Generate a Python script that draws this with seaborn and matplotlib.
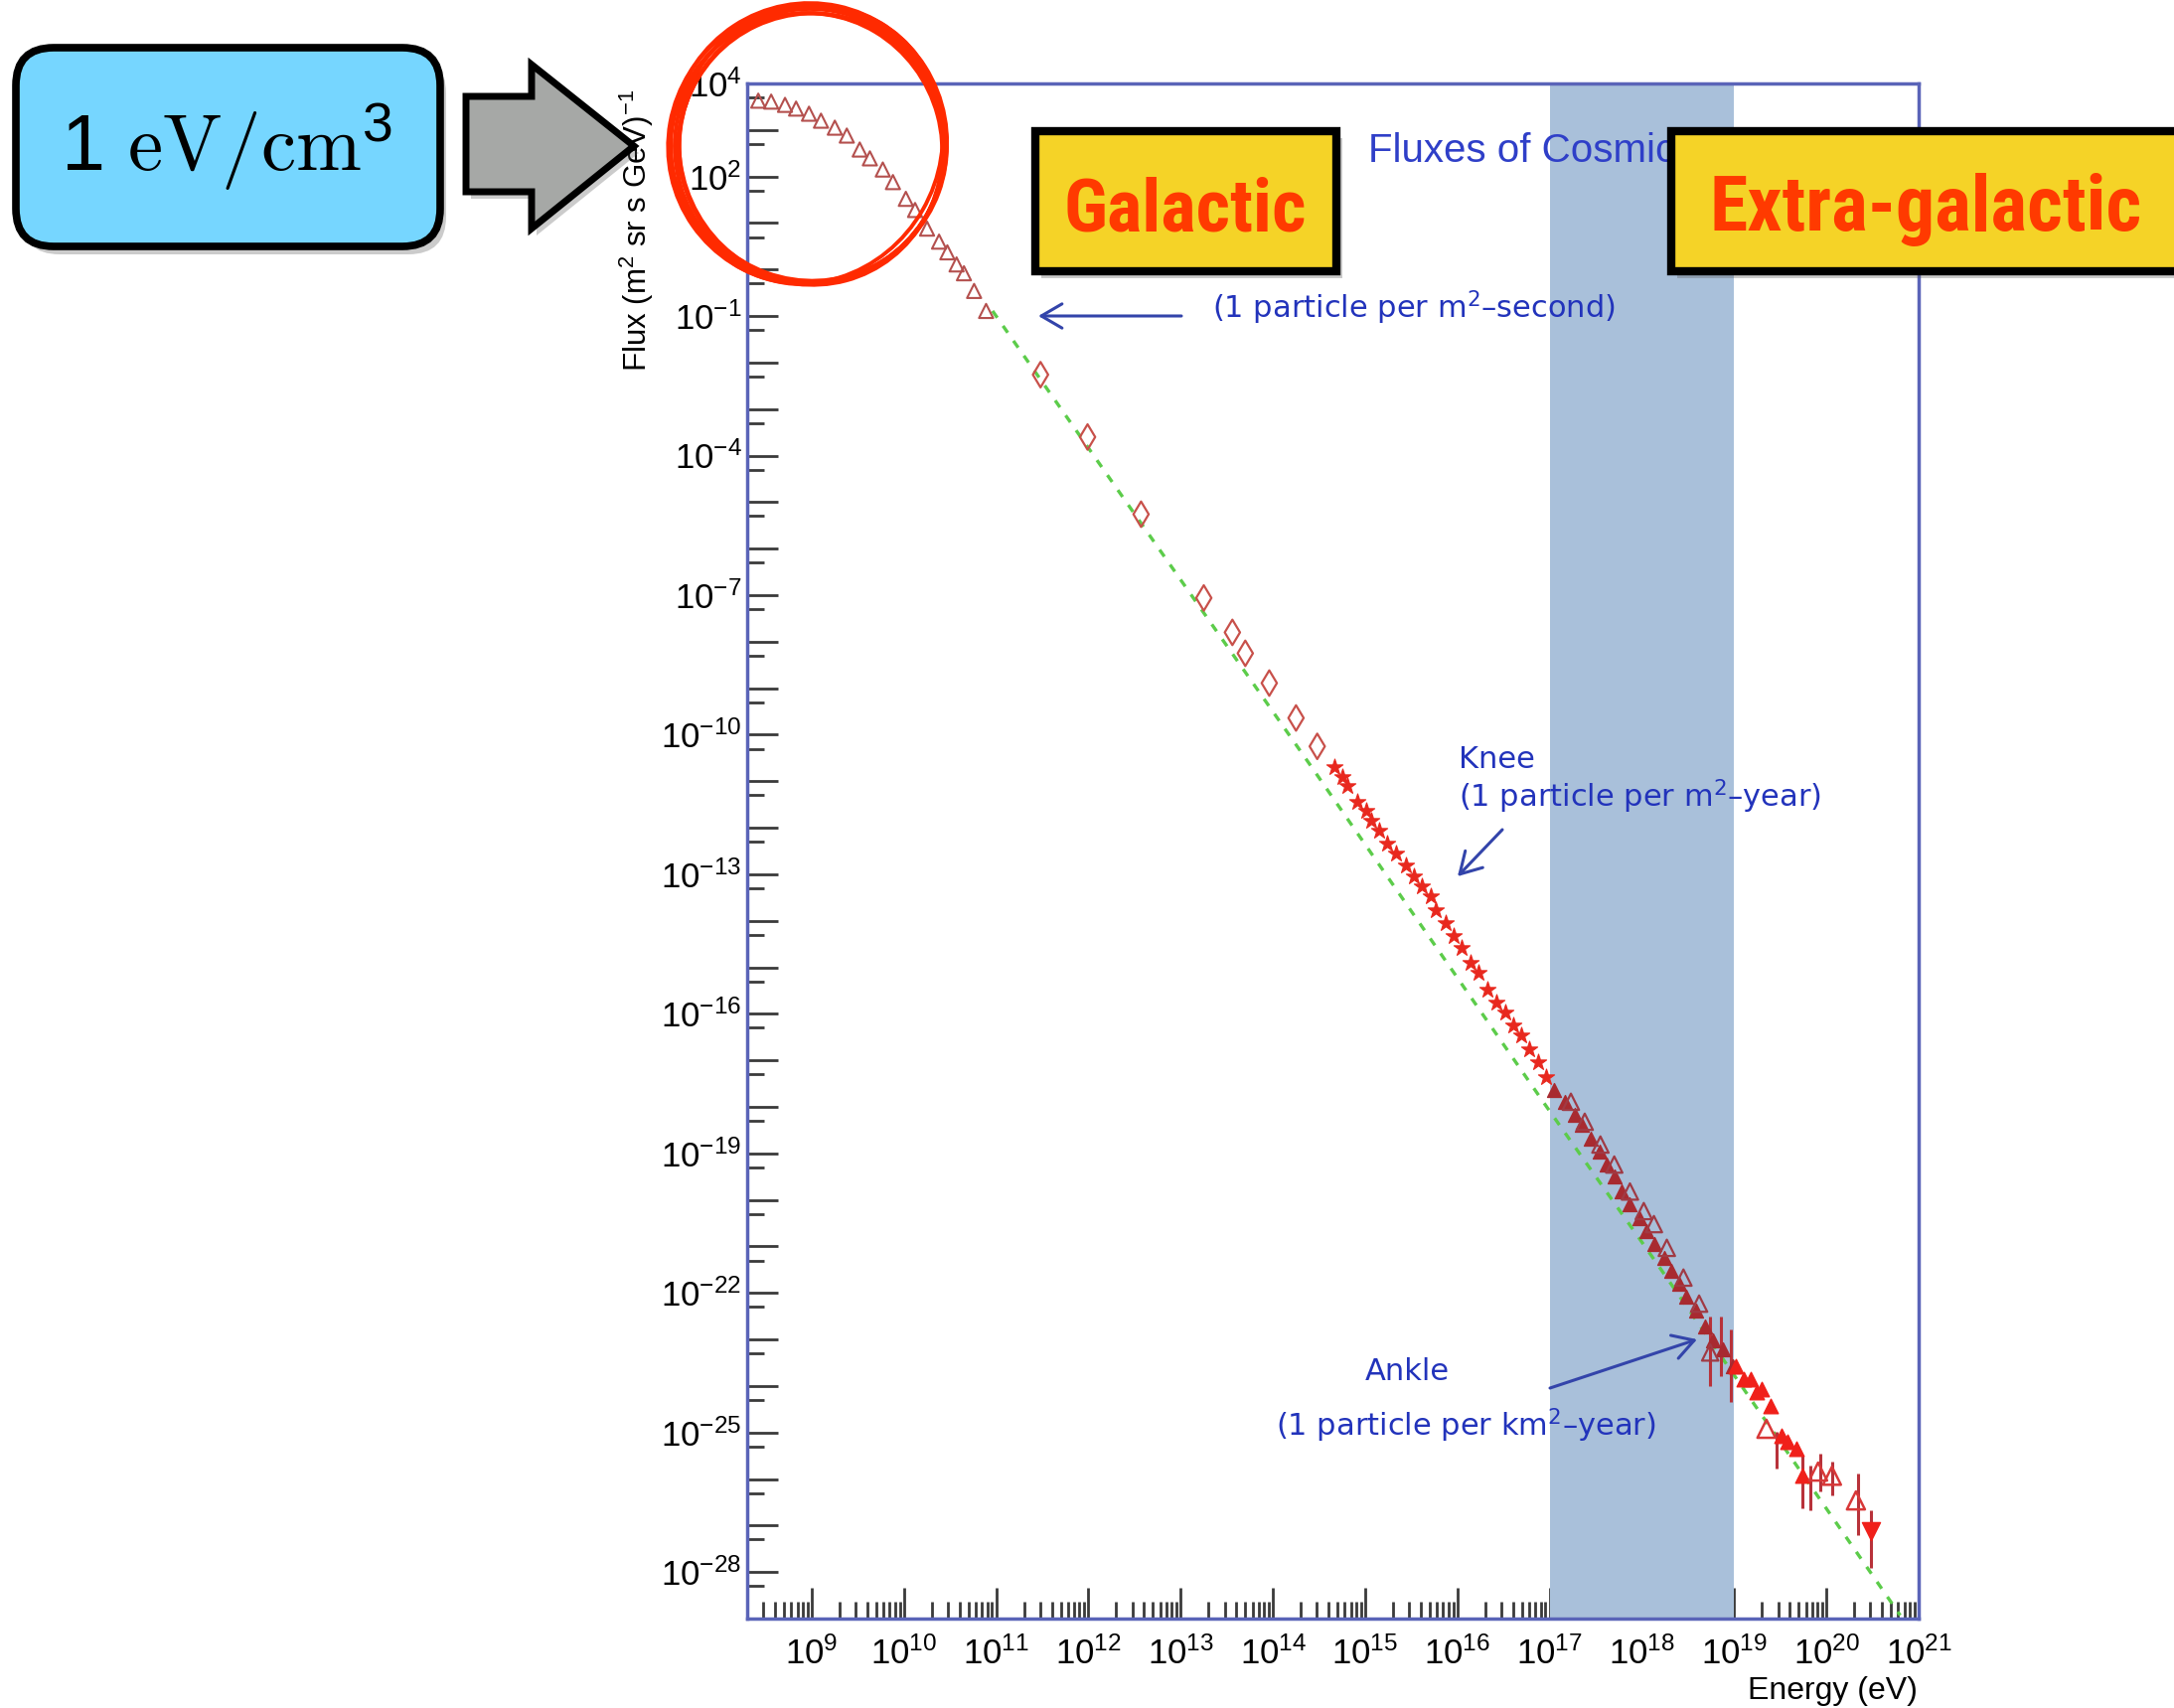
import numpy as np
import pandas as pd
import matplotlib
matplotlib.use("Agg")
import matplotlib.pyplot as plt
import seaborn as sns
from matplotlib import font_manager as fm
from matplotlib.patches import FancyBboxPatch, Polygon, Ellipse, Rectangle, FancyArrowPatch
from matplotlib.transforms import IdentityTransform
from matplotlib.ticker import FixedLocator, FuncFormatter, NullFormatter

# ---------------- data (log10 values) ----------------
low_tri_logE = [8.42, 8.56, 8.71, 8.83, 8.97, 9.10, 9.25, 9.38, 9.52, 9.63, 9.77,
                9.88, 10.02, 10.12, 10.25, 10.38, 10.47, 10.57, 10.65, 10.76, 10.89]
low_tri_logF = [3.63, 3.61, 3.54, 3.46, 3.35, 3.20, 3.05, 2.88, 2.58, 2.39, 2.15,
                1.88, 1.52, 1.28, 0.88, 0.60, 0.37, 0.11, -0.08, -0.46, -0.89]

diam_logE = [11.48, 11.99, 12.57, 13.25, 13.56, 13.70, 13.96, 14.25, 14.48]
diam_logF = [-2.26, -3.60, -5.26, -7.06, -7.80, -8.25, -8.89, -9.64, -10.25]

star_logE = [14.67, 14.75, 14.81, 14.91, 15.01, 15.06, 15.15, 15.24, 15.33, 15.44,
             15.53, 15.61, 15.71, 15.77, 15.87, 15.96, 16.04, 16.14, 16.23, 16.32,
             16.42, 16.52, 16.60, 16.69, 16.78, 16.87, 16.96]
star_logF = [-10.70, -10.91, -11.10, -11.44, -11.64, -11.85, -12.06, -12.34, -12.55, -12.81,
             -13.04, -13.26, -13.47, -13.77, -14.05, -14.32, -14.58, -14.90, -15.11, -15.47,
             -15.75, -15.97, -16.24, -16.46, -16.76, -17.04, -17.36]

band_fill_logE = [17.05, 17.16, 17.27, 17.35, 17.44, 17.54, 17.62, 17.70, 17.78, 17.87,
                  17.97, 18.05, 18.14, 18.24, 18.32, 18.40, 18.48, 18.59, 18.68, 18.77,
                  18.88, 18.99]
band_fill_logF = [-17.63, -17.89, -18.17, -18.38, -18.68, -18.96, -19.24, -19.50, -19.82, -20.09,
                  -20.39, -20.67, -20.95, -21.24, -21.52, -21.80, -22.09, -22.37, -22.73, -23.01,
                  -23.22, -23.58]
band_open_logE = [17.23, 17.38, 17.55, 17.70, 17.87, 18.02, 18.13, 18.27, 18.45, 18.62, 18.74]
band_open_logF = [-17.89, -18.32, -18.81, -19.24, -19.82, -20.24, -20.52, -21.03, -21.67, -22.23, -23.28]

hi_fill_logE = [19.02, 19.10, 19.18, 19.24, 19.30, 19.39, 19.51, 19.58, 19.67, 19.74]
hi_fill_logF = [-23.58, -23.86, -23.86, -24.13, -24.07, -24.43, -25.07, -25.20, -25.35, -25.93]
hi_open_logE = [19.35, 19.91, 20.06, 20.32]
hi_open_logF = [-24.92, -25.84, -25.93, -26.46]
upper_logE = [20.48]
upper_logF = [-27.12]

err_logE = [18.74, 18.86, 18.96, 19.46, 19.74, 19.83, 19.93, 20.06, 20.34, 20.48]
err_lo = [-24.00, -23.79, -24.34, -25.77, -26.63, -26.67, -26.26, -26.35, -27.20, -27.91]
err_hi = [-22.51, -22.51, -22.79, -24.98, -25.50, -25.71, -25.46, -25.63, -25.88, -26.67]

fit_logE = [10.96, 14.40, 16.95, 18.16, 19.90, 20.80]
fit_logF = [-0.89, -10.64, -17.95, -21.36, -26.35, -28.93]

band_logE = [17.0, 19.0]
x_label_exps = list(range(9, 22))
y_label_exps = [4, 2, -1, -4, -7, -10, -13, -16, -19, -22, -25, -28]

# ---------------- style ----------------
sns.set_theme(style="white")


def pick(names):
    for n in names:
        try:
            fm.findfont(fm.FontProperties(family=n), fallback_to_default=False)
            return n
        except Exception:
            pass
    return "DejaVu Sans"


SANS = pick(["Liberation Sans", "Arimo", "DejaVu Sans"])
NARROW = pick(["Liberation Sans Narrow", "Roboto Condensed", "Liberation Sans"])
plt.rcParams["font.family"] = [SANS, "DejaVu Sans"]
plt.rcParams["mathtext.default"] = "regular"

W, H = 2188, 1719
DPI = 100
ID = IdentityTransform()


def P(x, y):
    return (x, H - y)


fig = plt.figure(figsize=(W / DPI, H / DPI), dpi=DPI, facecolor="white")
ax = fig.add_axes([752 / W, 1 - 1629 / H, (1931 - 752) / W, (1629 - 84) / H])
ax.set_xscale("log")
ax.set_yscale("log")
ax.set_xlim(10 ** 8.3, 1e21)
ax.set_ylim(1e-29, 1e4)

# blue band
ax.axvspan(10 ** band_logE[0], 10 ** band_logE[1], color="#a9c0da", zorder=1, lw=0)

# green fit line
fit_df = pd.DataFrame({"E": 10 ** np.array(fit_logE), "F": 10 ** np.array(fit_logF)})
sns.lineplot(data=fit_df, x="E", y="F", ax=ax, color="#5ccc4a", lw=2.4,
             linestyle=(0, (2.5, 3)), sort=False, zorder=2, legend=False)


def sc(logE, logF, marker, s, fc, ec, lw=1.6, z=4):
    df = pd.DataFrame({"E": 10 ** np.array(logE), "F": 10 ** np.array(logF)})
    sns.scatterplot(data=df, x="E", y="F", ax=ax, marker=marker, s=s,
                    facecolor=fc, edgecolor=ec, linewidth=lw, zorder=z, legend=False)


# error bars
ax.vlines(10 ** np.array(err_logE), 10 ** np.array(err_lo), 10 ** np.array(err_hi),
          color="#b8323a", lw=2.2, zorder=3)

sc(low_tri_logE, low_tri_logF, "^", 105, "none", "#b4504e", 1.5)
sc(diam_logE, diam_logF, "d", 170, "none", "#c8504a", 1.6)
sc(star_logE, star_logF, "*", 150, "#e8281e", "#e8281e", 0.8)
sc(band_fill_logE, band_fill_logF, "^", 100, "#a82a30", "#a82a30", 1.0)
sc(band_open_logE, band_open_logF, "^", 140, "none", "#a03a44", 1.6)
sc(hi_fill_logE, hi_fill_logF, "^", 110, "#f0201a", "#f0201a", 1.0)
sc(hi_open_logE, hi_open_logF, "^", 170, "none", "#d83838", 1.8)
sc(upper_logE, upper_logF, "v", 170, "#f0201a", "#f0201a", 1.0)

ax.set_xlabel("")
ax.set_ylabel("")
ax.grid(False)

# ticks
ax.xaxis.set_major_locator(FixedLocator(10.0 ** np.arange(9, 22)))
ax.xaxis.set_minor_locator(FixedLocator([k * 10.0 ** n for n in range(8, 21) for k in range(2, 10)]))
ax.yaxis.set_major_locator(FixedLocator(10.0 ** np.arange(-29, 5)))
ax.yaxis.set_minor_locator(FixedLocator(5 * 10.0 ** np.arange(-29, 4)))


def xfmt(v, pos):
    e = int(round(np.log10(v)))
    return r"$10^{%d}$" % e if e in x_label_exps else ""


def yfmt(v, pos):
    e = int(round(np.log10(v)))
    return r"$10^{%d}$" % e if e in y_label_exps else ""


ax.xaxis.set_major_formatter(FuncFormatter(xfmt))
ax.yaxis.set_major_formatter(FuncFormatter(yfmt))
ax.xaxis.set_minor_formatter(NullFormatter())
ax.yaxis.set_minor_formatter(NullFormatter())
ax.tick_params(which="both", direction="in", color="#3a3a3a", width=2,
               bottom=True, left=True, top=False, right=False)
ax.tick_params(which="major", length=22)
ax.tick_params(which="minor", length=12)
ax.tick_params(axis="x", which="major", labelsize=25, pad=13, labelcolor="black")
ax.tick_params(axis="y", which="major", labelsize=25, pad=4, labelcolor="black")
for sp in ax.spines.values():
    sp.set_color("#5a64b8")
    sp.set_linewidth(2.5)
    sp.set_visible(True)

# axis titles
fig.text(*P(1930, 1702), "Energy (eV)", transform=ID, ha="right", va="center",
         fontsize=23, color="black")
fig.text(*P(641, 232), r"Flux (m$^2$ sr s GeV)$^{-1}$", transform=ID, ha="center",
         va="center", rotation=90, fontsize=22.5, color="black", zorder=3)

# title (partly hidden)
fig.text(*P(1377, 152), "Fluxes of Cosmic Rays", transform=ID, ha="left", va="center",
         fontsize=29, color="#2f3fc8", zorder=5)

# annotations
BLUE = "#2233bb"
ANN = ["DejaVu Sans"]
fig.text(*P(1220, 310), r"(1 particle per m$^2$–second)", transform=ID, ha="left", va="center",
         fontsize=22, color=BLUE, family=ANN, math_fontfamily="dejavusans", zorder=6)
fig.text(*P(1468, 764), "Knee", transform=ID, ha="left", va="center",
         fontsize=22, color=BLUE, family=ANN, zorder=6)
fig.text(*P(1468, 802), r"(1 particle per m$^2$–year)", transform=ID, ha="left", va="center",
         fontsize=22, color=BLUE, family=ANN, math_fontfamily="dejavusans", zorder=6)
fig.text(*P(1416, 1380), "Ankle", transform=ID, ha="center", va="center",
         fontsize=22, color=BLUE, family=ANN, zorder=6)
fig.text(*P(1284, 1435), r"(1 particle per km$^2$–year)", transform=ID, ha="left", va="center",
         fontsize=22, color=BLUE, family=ANN, math_fontfamily="dejavusans", zorder=6)

for a, b in [((1189, 318), (1045, 318)), ((1512, 835), (1467, 882)), ((1560, 1397), (1708, 1348))]:
    arr = FancyArrowPatch(P(*a), P(*b), arrowstyle="->,head_length=0.6,head_width=0.35",
                          mutation_scale=25, color="#3344aa", lw=2.2, transform=ID,
                          shrinkA=0, shrinkB=0, zorder=6)
    fig.add_artist(arr)

# ---------------- overlays ----------------
# blue box
fig.add_artist(FancyBboxPatch((22, H - 256), 427, 200, boxstyle="round,pad=0,rounding_size=38",
                              fc="#555555", ec="none", alpha=0.3, transform=ID, zorder=9))
fig.add_artist(FancyBboxPatch((16, H - 248), 427, 200, boxstyle="round,pad=0,rounding_size=38",
                              fc="#76d6ff", ec="black", lw=5.5, transform=ID, zorder=10))
fig.text(*P(228, 172), r"$1\ \mathrm{eV/cm}^3$", transform=ID, ha="center", va="baseline",
         fontsize=57, math_fontfamily="cm", color="black", zorder=11)

# gray arrow
arrow_pts = [(469, 97), (535, 97), (535, 65), (638, 147), (535, 230), (535, 193), (469, 193)]
fig.add_artist(Polygon([P(x + 5, y + 7) for x, y in arrow_pts], closed=True, fc="#555555",
                       ec="none", alpha=0.3, transform=ID, zorder=9))
fig.add_artist(Polygon([P(x, y) for x, y in arrow_pts], closed=True, fc="#a6a8a6",
                       ec="black", lw=5, joinstyle="miter", transform=ID, zorder=10))

# red hand-drawn circle
for dx, dy, dw, dh, ang in [(0, 0, 0, 0, 0), (2, -2, -5, 4, 8), (-2, 2, 4, -4, -6),
                            (1, 3, -8, -2, 15), (-1, -3, 6, 6, -12), (3, 1, -2, -7, 25),
                            (-3, 0, 8, 2, 35), (0, -1, -10, 8, -30)]:
    fig.add_artist(Ellipse(P(815 + dx, 147 + dy), 272 + dw, 276 + dh, angle=ang, fill=False,
                           ec="#ff2a00", lw=2.8, transform=ID, zorder=12))

# yellow boxes
for x0, x1 in [(1042, 1345), (1682, 2205)]:
    fig.add_artist(Rectangle((x0 + 6, H - 280), x1 - x0, 141, fc="#555555", ec="none",
                             alpha=0.3, transform=ID, zorder=9))
    fig.add_artist(Rectangle((x0, H - 273), x1 - x0, 141, fc="#f5d327", ec="black", lw=6,
                             transform=ID, zorder=10))
fig.text(*P(1193, 232), "Galactic", transform=ID, ha="center", va="baseline", fontsize=54,
         fontweight="bold", family=[NARROW, "DejaVu Sans"], color="#ff3a00", zorder=11)
fig.text(*P(1938, 232), "Extra-galactic", transform=ID, ha="center", va="baseline", fontsize=56,
         fontweight="bold", family=[NARROW, "DejaVu Sans"], color="#ff3a00", zorder=11)

fig.savefig("out.png", dpi=DPI, facecolor="white")
